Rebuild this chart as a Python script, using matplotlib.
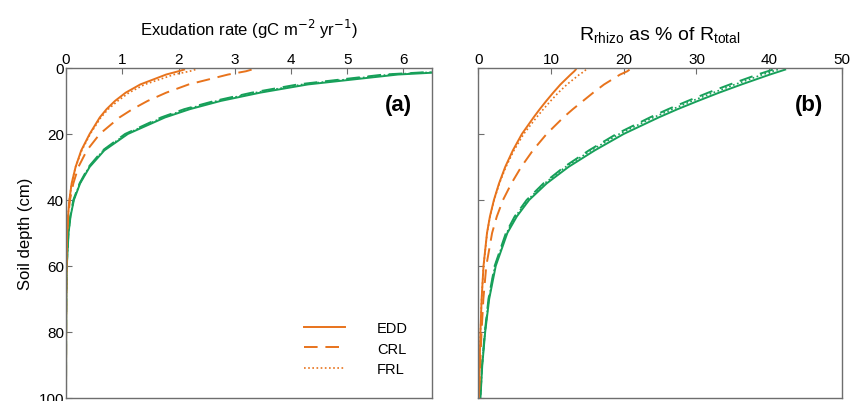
#!/usr/bin/env python3
"""
Exudation rate and rhizosphere respiration share vs soil depth.
"""

import matplotlib.pyplot as plt

# Data
depth = [0.5, 1, 2, 5, 7.5, 10, 12.5, 15, 20, 25, 30, 35, 40, 45, 50, 60, 70, 80, 90, 100]

# panel (a): exudation rate, gC m-2 yr-1
exu_edd_orange = [2.1, 2.0, 1.78, 1.32, 1.06, 0.87, 0.72, 0.6, 0.42, 0.27, 0.17, 0.1, 0.06, 0.035, 0.02, 0.008, 0.004, 0.002, 0.001, 0.0]
exu_crl_orange = [3.3, 3.2, 2.88, 2.18, 1.78, 1.45, 1.18, 0.95, 0.6, 0.37, 0.22, 0.13, 0.07, 0.04, 0.02, 0.006, 0.003, 0.002, 0.001, 0.0]
exu_frl_orange = [2.3, 2.2, 1.92, 1.4, 1.12, 0.92, 0.75, 0.62, 0.43, 0.28, 0.17, 0.1, 0.06, 0.035, 0.02, 0.008, 0.004, 0.002, 0.001, 0.0]
exu_edd_green = [7.8, 7.0, 5.9, 4.3, 3.45, 2.75, 2.2, 1.76, 1.1, 0.68, 0.42, 0.25, 0.14, 0.08, 0.045, 0.014, 0.005, 0.002, 0.001, 0.0]
exu_crl_green = [7.5, 6.7, 5.65, 4.12, 3.3, 2.64, 2.1, 1.69, 1.05, 0.65, 0.4, 0.24, 0.13, 0.075, 0.042, 0.013, 0.005, 0.002, 0.001, 0.0]
exu_frl_green = [7.6, 6.8, 5.75, 4.2, 3.36, 2.68, 2.14, 1.72, 1.07, 0.66, 0.41, 0.245, 0.135, 0.077, 0.043, 0.013, 0.005, 0.002, 0.001, 0.0]

# panel (b): R_rhizo as % of R_total
rr_edd_orange = [13.4, 13.2, 12.7, 11.3, 10.3, 9.35, 8.45, 7.6, 6.0, 4.75, 3.7, 2.85, 2.15, 1.6, 1.2, 0.72, 0.46, 0.3, 0.18, 0.08]
rr_crl_orange = [20.8, 20.5, 19.5, 17.3, 15.8, 14.4, 13.0, 11.7, 9.4, 7.5, 5.9, 4.55, 3.4, 2.55, 1.9, 1.1, 0.7, 0.45, 0.26, 0.1]
rr_frl_orange = [14.8, 14.6, 13.9, 12.2, 11.0, 9.95, 8.95, 8.0, 6.25, 4.9, 3.8, 2.9, 2.18, 1.62, 1.22, 0.72, 0.46, 0.3, 0.18, 0.08]
rr_edd_green = [42.2, 41.5, 40.1, 36.2, 33.1, 30.2, 27.4, 24.8, 20.0, 16.0, 12.4, 9.4, 7.0, 5.3, 4.0, 2.4, 1.5, 0.95, 0.55, 0.3]
rr_crl_green = [40.5, 39.8, 38.4, 34.6, 31.6, 28.8, 26.1, 23.6, 19.0, 15.2, 11.8, 8.95, 6.65, 5.0, 3.8, 2.25, 1.4, 0.9, 0.52, 0.28]
rr_frl_green = [41.2, 40.5, 39.1, 35.3, 32.3, 29.4, 26.7, 24.1, 19.4, 15.5, 12.0, 9.1, 6.8, 5.1, 3.9, 2.3, 1.45, 0.92, 0.53, 0.29]

ORANGE = '#E8731C'
GREEN = '#17A05A'
SPINE = '#6E6E6E'

plt.rcParams['font.family'] = ['Liberation Sans', 'DejaVu Sans']


def style_axis(ax, xlim, xticks):
    ax.set_xlim(*xlim)
    ax.set_ylim(100, 0)
    ax.set_xticks(xticks)
    ax.set_yticks([0, 20, 40, 60, 80, 100])
    ax.xaxis.tick_top()
    ax.tick_params(direction='in', length=4, color=SPINE, labelsize=11,
                   pad=1.5)
    for sp in ax.spines.values():
        sp.set_color(SPINE)
        sp.set_linewidth(1.0)


def draw_set(ax, edd, crl, frl, color):
    ax.plot(edd, depth, color=color, lw=1.4, ls='-', label='EDD')
    ax.plot(crl, depth, color=color, lw=1.4, ls=(0, (7, 4)), label='CRL')
    ax.plot(frl, depth, color=color, lw=1.2, ls=(0, (1, 1.5)), label='FRL')


fig = plt.figure(figsize=(8.53, 4.02), dpi=100)
ax1 = fig.add_axes([0.0774, 0.0075, 0.4286, 0.821])
ax2 = fig.add_axes([0.5607, 0.0075, 0.4263, 0.821])

# Panel (a)
draw_set(ax1, exu_edd_green, exu_crl_green, exu_frl_green, GREEN)
draw_set(ax1, exu_edd_orange, exu_crl_orange, exu_frl_orange, ORANGE)
style_axis(ax1, (0, 6.5), [0, 1, 2, 3, 4, 5, 6])
ax1.set_title('Exudation rate (gC m$^{-2}$ yr$^{-1}$)', fontsize=12, pad=12)
ax1.set_ylabel('Soil depth (cm)', fontsize=12, labelpad=4)
ax1.text(0.947, 0.89, '(a)', transform=ax1.transAxes, ha='right',
         va='center', fontsize=16, fontweight='bold')
handles, labels = ax1.get_legend_handles_labels()
ax1.legend(handles[3:], labels[3:], loc='upper right', frameon=False,
           fontsize=10.5, handlelength=2.8, handletextpad=2.2,
           borderaxespad=0, borderpad=0, labelspacing=0.42,
           bbox_to_anchor=(0.935, 0.232))

# Panel (b)
draw_set(ax2, rr_edd_green, rr_crl_green, rr_frl_green, GREEN)
draw_set(ax2, rr_edd_orange, rr_crl_orange, rr_frl_orange, ORANGE)
style_axis(ax2, (0, 50), [0, 10, 20, 30, 40, 50])
ax2.set_yticklabels([])
ax2.set_title('R$_{\\mathregular{rhizo}}$ as % of R$_{\\mathregular{total}}$',
              fontsize=14, pad=9)
ax2.text(0.948, 0.89, '(b)', transform=ax2.transAxes, ha='right',
         va='center', fontsize=16, fontweight='bold')

plt.savefig('out.png', dpi=100)
plt.close()
